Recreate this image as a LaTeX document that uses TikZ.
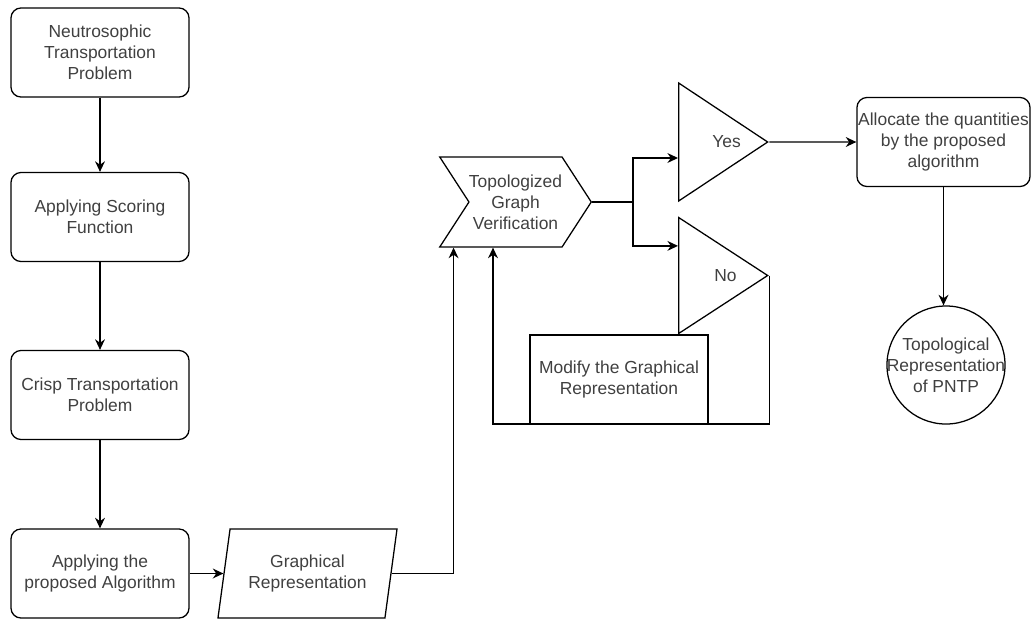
\documentclass[tikz,border=0pt]{standalone}
\usepackage{fontspec}
\setmainfont{Liberation Sans}
\usetikzlibrary{positioning, arrows.meta, shapes.geometric, shapes.symbols}

\begin{document}
\begin{tikzpicture}[x=0.025cm, y=-0.025cm,
    every node/.style={font=\fontsize{12.4}{14.9}\selectfont, text=black!75, align=center},
    box/.style={draw, line width=0.9pt, rectangle, minimum width=4.45cm, minimum height=2.225cm, inner sep=0pt},
    rbox/.style={box, rounded corners=0.25cm},
    tri/.style={draw, line width=0.9pt, isosceles triangle, isosceles triangle stretches, shape border rotate=0,
        minimum height=2.225cm, inner sep=0pt, anchor=west},
    arr/.style={line width=0.9pt, -{Stealth[length=7.5pt, width=7pt]}},
    wire/.style={line width=0.9pt}]

    \useasboundingbox (0,0) rectangle (1035,620);

    % Left column
    \node[rbox] (ntp) at (100, 52.5) {Neutrosophic\\Transportation\\Problem};
    \node[rbox] (score) at (100, 217) {Applying Scoring\\Function};
    \node[rbox] (crisp) at (100, 395) {Crisp Transportation\\Problem};
    \node[rbox] (algo) at (100, 573.5) {Applying the\\proposed Algorithm};

    % Graphical representation
    \node[draw, line width=0.9pt, trapezium, trapezium left angle=72, trapezium right angle=108,
        trapezium stretches body, minimum width=4.475cm, minimum height=2.225cm, inner sep=0pt]
        (graph) at (307.5, 573.5) {Graphical\\Representation};

    % Verification
    \node[draw, line width=0.9pt, signal, signal from=west, signal to=east, signal pointer angle=114,
        minimum width=3.675cm, minimum height=2.25cm, inner sep=0pt]
        (verif) at (515.5, 202) {Topologized\\Graph\\Verification};

    % Decisions
    \node[tri, minimum width=2.95cm] (yes) at (678, 142) {\hspace*{17pt}Yes};
    \node[tri, minimum width=2.9cm] (no) at (678, 275.5) {\hspace*{17pt}No};

    \node[box] (modify) at (619, 379.5) {Modify the Graphical\\Representation};

    % Right column
    \node[rbox, minimum width=4.325cm] (alloc) at (943.5, 142) {Allocate the quantities\\by the proposed\\algorithm};
    \node[draw, line width=0.9pt, circle, minimum size=2.95cm, inner sep=-7pt] (result) at (946, 365)
        {Topological\\Representation\\of PNTP};

    % Connectors
    \draw[arr] (ntp) -- (score);
    \draw[arr] (score) -- (crisp);
    \draw[arr] (crisp) -- (algo);
    \draw[arr] (algo) -- (graph);
    \draw[arr] (graph.east) -| ([xshift=0.375cm]verif.south west);

    \coordinate (split) at (633, 202);
    \draw[wire] (verif.east) -- (split);
    \draw[arr] (split) |- ([yshift=-0.4cm]yes.west);
    \draw[arr] (split) |- ([yshift=0.74cm]no.west);

    \coordinate (loop) at (493, 424);
    \draw[arr] (no.apex) |- (loop) -- (loop |- verif.south);

    \draw[arr] (yes.apex) -- (alloc.west);
    \draw[arr] (alloc.south) -- (alloc.south |- result.north);

\end{tikzpicture}
\end{document}
